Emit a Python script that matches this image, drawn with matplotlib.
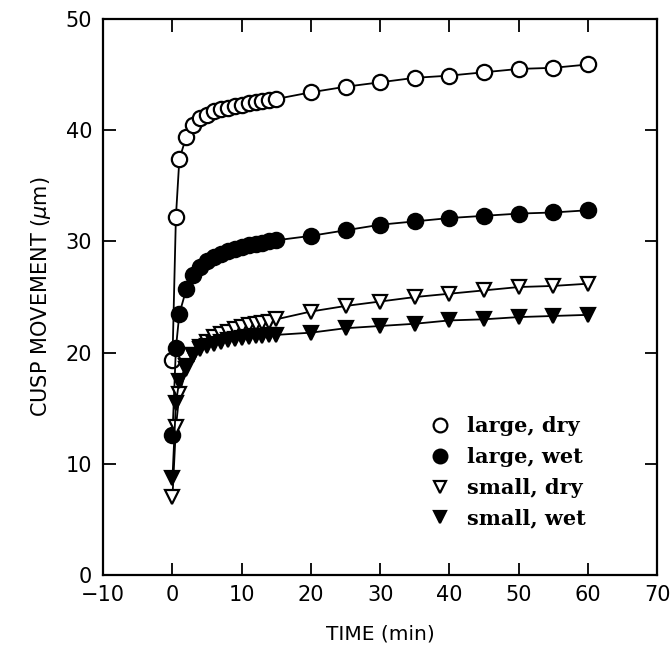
import matplotlib
matplotlib.use("Agg")
import matplotlib.pyplot as plt

# time points (min)
time = [0, 0.5, 1, 2, 3, 4, 5, 6, 7, 8, 9, 10, 11, 12, 13, 14, 15,
        20, 25, 30, 35, 40, 45, 50, 55, 60]

# cusp movement (um)
large_dry = [19.3, 32.2, 37.4, 39.4, 40.5, 41.1, 41.4, 41.7, 41.9, 42.0, 42.2, 42.3,
             42.4, 42.5, 42.6, 42.7, 42.8, 43.4, 43.9, 44.3, 44.7, 44.9, 45.2, 45.5, 45.6, 45.9]
large_wet = [12.6, 20.4, 23.5, 25.7, 27.0, 27.7, 28.2, 28.6, 28.9, 29.1, 29.3, 29.5,
             29.7, 29.8, 29.9, 30.0, 30.1, 30.5, 31.0, 31.5, 31.8, 32.1, 32.3, 32.5, 32.6, 32.8]
small_dry = [7.0, 13.3, 16.3, 18.5, 19.8, 20.5, 21.0, 21.4, 21.7, 21.9, 22.1, 22.3,
             22.5, 22.6, 22.7, 22.8, 23.0, 23.7, 24.2, 24.6, 25.0, 25.3, 25.6, 25.9, 26.0, 26.2]
small_wet = [8.7, 15.5, 17.5, 18.8, 19.8, 20.3, 20.6, 20.8, 21.0, 21.1, 21.2, 21.3,
             21.4, 21.5, 21.5, 21.6, 21.6, 21.8, 22.2, 22.4, 22.6, 22.9, 23.0, 23.2, 23.3, 23.4]

labels = ["large, dry", "large, wet", "small, dry", "small, wet"]

fig = plt.figure(figsize=(6.7, 6.5), dpi=100)
ax = fig.add_axes([0.154, 0.115, 0.827, 0.856])

# open/filled circles and triangles
ax.plot(time, large_dry, "-o", color="black", mfc="white", mec="black", ms=11, mew=1.6, lw=1.3, label=labels[0])
ax.plot(time, large_wet, "-o", color="black", mfc="black", mec="black", ms=11, mew=1.6, lw=1.3, label=labels[1])
ax.plot(time, small_dry, "-v", color="black", mfc="white", mec="black", ms=10, mew=1.6, lw=1.3, label=labels[2])
ax.plot(time, small_wet, "-v", color="black", mfc="black", mec="black", ms=10, mew=1.6, lw=1.3, label=labels[3])

ax.set_xlim(-10, 70)
ax.set_ylim(0, 50)
ax.set_xticks(range(-10, 71, 10))
ax.set_yticks(range(0, 51, 10))
ax.tick_params(direction="in", length=9, width=1.3, top=True, right=True, labelsize=15)
ax.tick_params(axis="x", pad=7)
ax.tick_params(axis="y", pad=8)
for s in ax.spines.values():
    s.set_linewidth(1.6)

ax.set_xlabel("TIME (min)", fontsize=14.5, labelpad=14)
ax.set_ylabel(r"CUSP MOVEMENT ($\mu$m)", fontsize=15, labelpad=9)

ax.legend(loc="lower right", bbox_to_anchor=(0.905, 0.05), frameon=False,
          handlelength=0, handletextpad=1.3, labelspacing=0.52, markerscale=0.9,
          prop={"family": "DejaVu Serif", "size": 15, "weight": "bold"})

fig.savefig("out.png", dpi=100)
